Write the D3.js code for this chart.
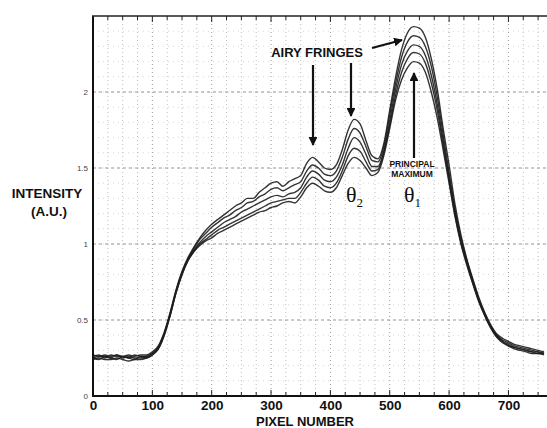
<!DOCTYPE html>
<html><head><meta charset="utf-8">
<script src="https://cdn.jsdelivr.net/npm/d3@7"></script>
<style>body{margin:0;background:#fff}svg{display:block}</style>
</head><body>
<svg id="c" width="547" height="428"></svg>
<script>
const pixels = [0,10,20,30,40,50,60,70,80,90,100,110,120,130,140,150,160,170,180,190,200,210,220,230,240,250,260,270,280,290,300,310,320,330,340,350,360,370,380,390,400,410,420,430,440,450,460,470,480,490,500,510,520,530,540,550,560,570,580,590,600,610,620,630,640,650,660,670,680,690,700,710,720,730,740,750,760];
const s1 = [0.27,0.26,0.27,0.26,0.27,0.26,0.27,0.26,0.27,0.27,0.29,0.33,0.42,0.55,0.70,0.82,0.91,0.98,1.04,1.09,1.13,1.16,1.19,1.22,1.25,1.27,1.30,1.30,1.34,1.37,1.40,1.41,1.38,1.41,1.43,1.45,1.53,1.57,1.54,1.50,1.49,1.52,1.62,1.75,1.82,1.79,1.68,1.58,1.56,1.66,1.88,2.10,2.28,2.39,2.43,2.42,2.36,2.22,2.02,1.76,1.52,1.26,1.06,0.90,0.77,0.65,0.55,0.47,0.41,0.38,0.36,0.34,0.33,0.32,0.31,0.30,0.29];
const s2 = [0.26,0.27,0.25,0.27,0.26,0.26,0.25,0.27,0.26,0.26,0.28,0.32,0.41,0.54,0.69,0.81,0.90,0.97,1.03,1.07,1.11,1.14,1.17,1.19,1.22,1.24,1.27,1.28,1.31,1.33,1.36,1.37,1.35,1.37,1.39,1.41,1.48,1.52,1.50,1.46,1.45,1.48,1.57,1.69,1.76,1.73,1.64,1.55,1.54,1.64,1.85,2.06,2.23,2.33,2.37,2.36,2.30,2.17,1.97,1.72,1.47,1.23,1.04,0.89,0.76,0.64,0.54,0.46,0.40,0.37,0.35,0.33,0.32,0.31,0.30,0.29,0.28];
const s3 = [0.25,0.26,0.26,0.25,0.27,0.25,0.26,0.25,0.25,0.26,0.28,0.32,0.41,0.54,0.69,0.81,0.90,0.96,1.01,1.05,1.08,1.11,1.14,1.16,1.18,1.21,1.23,1.25,1.27,1.29,1.31,1.32,1.31,1.33,1.34,1.37,1.44,1.48,1.46,1.42,1.41,1.44,1.52,1.63,1.70,1.67,1.59,1.51,1.51,1.61,1.81,2.02,2.18,2.27,2.31,2.30,2.24,2.11,1.92,1.68,1.44,1.21,1.02,0.88,0.75,0.63,0.54,0.46,0.40,0.36,0.34,0.32,0.31,0.30,0.29,0.29,0.28];
const s4 = [0.25,0.24,0.26,0.25,0.24,0.26,0.25,0.24,0.26,0.25,0.27,0.31,0.40,0.53,0.68,0.80,0.89,0.95,1.00,1.03,1.06,1.09,1.11,1.13,1.15,1.17,1.19,1.21,1.23,1.25,1.27,1.28,1.29,1.30,1.30,1.34,1.40,1.44,1.42,1.38,1.37,1.40,1.48,1.58,1.63,1.61,1.54,1.48,1.49,1.60,1.78,1.98,2.13,2.22,2.26,2.25,2.19,2.06,1.88,1.65,1.42,1.19,1.01,0.87,0.74,0.63,0.53,0.45,0.39,0.36,0.33,0.32,0.31,0.30,0.29,0.28,0.28];
const s5 = [0.24,0.25,0.24,0.24,0.25,0.24,0.23,0.24,0.24,0.25,0.27,0.31,0.40,0.53,0.68,0.80,0.89,0.95,0.99,1.02,1.04,1.07,1.09,1.11,1.13,1.15,1.17,1.19,1.21,1.22,1.24,1.25,1.27,1.28,1.27,1.31,1.37,1.40,1.38,1.35,1.34,1.37,1.45,1.53,1.57,1.55,1.50,1.45,1.47,1.58,1.76,1.95,2.08,2.16,2.20,2.19,2.13,2.00,1.83,1.62,1.40,1.18,1.00,0.86,0.74,0.62,0.53,0.45,0.39,0.35,0.33,0.31,0.30,0.29,0.28,0.28,0.27];
const seriesList = [s1, s2, s3, s4, s5];
const xTicks = [0,100,200,300,400,500,600,700];
const yTicks = [0,0.5,1,1.5,2];

const svg = d3.select("#c");
const x = d3.scaleLinear().domain([0,765]).range([93,547]);
const y = d3.scaleLinear().domain([0,2.5]).range([396,16]);

// grid
const g = svg.append("g");
g.selectAll(".vg").data(d3.range(25,765,25)).join("line")
  .attr("x1",d=>x(d)).attr("x2",d=>x(d)).attr("y1",16).attr("y2",396)
  .attr("stroke",d=>d%100===0?"#999":"#bdbdbd").attr("stroke-width",1)
  .attr("stroke-dasharray","1,3");
g.selectAll(".hg").data(d3.range(0.1,2.5,0.1)).join("line")
  .attr("x1",93).attr("x2",547).attr("y1",d=>y(d)).attr("y2",d=>y(d))
  .attr("stroke","#d8d8d8").attr("stroke-dasharray","1,4");
g.selectAll(".hg2").data([0.5,1,1.5,2]).join("line")
  .attr("x1",93).attr("x2",547).attr("y1",d=>y(d)).attr("y2",d=>y(d))
  .attr("stroke","#999").attr("stroke-dasharray","3,3");

// curves
const line = d3.line().x((d,i)=>x(pixels[i])).y(d=>y(d)).curve(d3.curveMonotoneX);
svg.append("g").selectAll("path").data(seriesList).join("path")
  .attr("d",line).attr("fill","none").attr("stroke","#1e1e1e").attr("stroke-width",1.4).attr("opacity",0.9);

// axes
const bold = "Liberation Sans, Arial, sans-serif";
const xb = d3.axisBottom(x).tickValues(xTicks).tickSize(0).tickFormat(d3.format("d"));
const ax = svg.append("g").attr("transform","translate(0,396)").call(xb);
ax.select(".domain").remove();
ax.selectAll("text").attr("y",14).attr("dy",0).attr("font-family",bold).attr("font-weight","bold").attr("font-size",13.5).attr("fill","#111");
const yl = d3.axisLeft(y).tickValues(yTicks).tickSize(0).tickPadding(5).tickFormat(d=>d);
const ay = svg.append("g").attr("transform","translate(93,0)").call(yl);
ay.select(".domain").remove();
ay.selectAll("text").attr("font-family",bold).attr("font-size",8).attr("fill","#444");

// frame
svg.append("line").attr("x1",93).attr("x2",93).attr("y1",16).attr("y2",397).attr("stroke","#111").attr("stroke-width",2);
svg.append("line").attr("x1",92).attr("x2",547).attr("y1",396).attr("y2",396).attr("stroke","#111").attr("stroke-width",2);
svg.append("line").attr("x1",92).attr("x2",547).attr("y1",16).attr("y2",16).attr("stroke","#222").attr("stroke-width",1.5);
const minor = d3.range(25,765,25);
svg.append("g").selectAll("line").data(minor).join("line")
  .attr("x1",d=>x(d)).attr("x2",d=>x(d)).attr("y1",16).attr("y2",d=>d%100===0?22:20).attr("stroke","#222");
svg.append("g").selectAll("line").data(minor).join("line")
  .attr("x1",d=>x(d)).attr("x2",d=>x(d)).attr("y1",396).attr("y2",d=>d%100===0?390:392).attr("stroke","#222");

// axis titles
svg.append("text").attr("x",305).attr("y",426).attr("text-anchor","middle").attr("font-family",bold).attr("font-weight","bold").attr("font-size",13).attr("fill","#111").text("PIXEL NUMBER");
svg.append("text").attr("x",47).attr("y",198).attr("text-anchor","middle").attr("font-family",bold).attr("font-weight","bold").attr("font-size",13.5).attr("fill","#111").text("INTENSITY");
svg.append("text").attr("x",49).attr("y",216).attr("text-anchor","middle").attr("font-family",bold).attr("font-weight","bold").attr("font-size",13.5).attr("fill","#111").text("(A.U.)");

// annotations
const defs = svg.append("defs");
defs.append("marker").attr("id","ah").attr("viewBox","0 0 10 10").attr("refX",9).attr("refY",5)
  .attr("markerWidth",4).attr("markerHeight",4).attr("orient","auto")
  .append("path").attr("d","M0,0L10,5L0,10z").attr("fill","#111");
function arrow(x1,y1,x2,y2){
  svg.append("line").attr("x1",x1).attr("y1",y1).attr("x2",x2).attr("y2",y2)
    .attr("stroke","#111").attr("stroke-width",2.2).attr("marker-end","url(#ah)");
}
svg.append("text").attr("x",317).attr("y",57).attr("text-anchor","middle").attr("font-family",bold).attr("font-weight","bold").attr("font-size",13).attr("fill","#111").text("AIRY FRINGES");
arrow(372,48,402,40);
arrow(313,65,313,145);
arrow(351,63,351,116);
arrow(414,158,414,73);
svg.append("text").attr("x",412).attr("y",167).attr("text-anchor","middle").attr("font-family",bold).attr("font-weight","bold").attr("font-size",8.5).attr("fill","#111").text("PRINCIPAL");
svg.append("text").attr("x",412).attr("y",177).attr("text-anchor","middle").attr("font-family",bold).attr("font-weight","bold").attr("font-size",8.5).attr("fill","#111").text("MAXIMUM");
const serif = "Liberation Serif, Times New Roman, serif";
const t2 = svg.append("text").attr("x",346).attr("y",202).attr("font-family",serif).attr("font-size",22).attr("fill","#111");
t2.append("tspan").text("θ");
t2.append("tspan").attr("font-size",13).attr("dy",5).text("2");
const t1 = svg.append("text").attr("x",404).attr("y",202).attr("font-family",serif).attr("font-size",22).attr("fill","#111");
t1.append("tspan").text("θ");
t1.append("tspan").attr("font-size",13).attr("dy",5).text("1");
</script>
</body></html>
